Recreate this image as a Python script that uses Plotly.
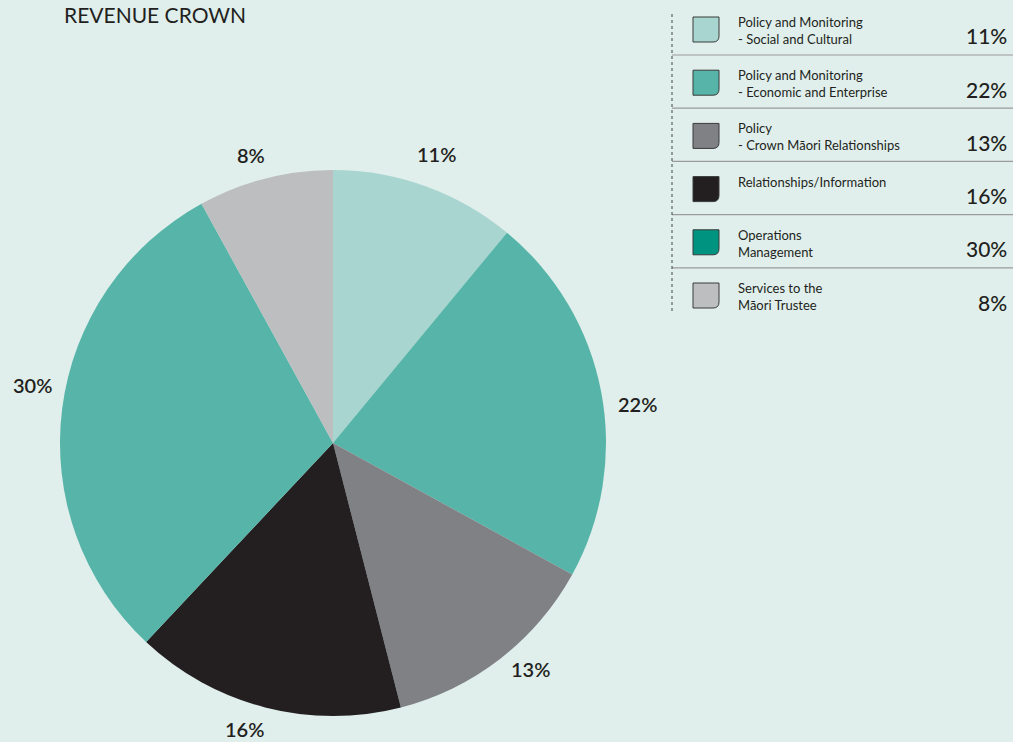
import math
import plotly.graph_objects as go

W, H = 1013, 742

categories = [
    "Policy and Monitoring<br>- Social and Cultural",
    "Policy and Monitoring<br>- Economic and Enterprise",
    "Policy<br>- Crown Māori Relationships",
    "Relationships/Information",
    "Operations<br>Management",
    "Services to the<br>Māori Trustee",
]
values = [11, 22, 13, 16, 30, 8]
pie_colors = ["#a8d5cf", "#56b4a8", "#808184", "#231f20", "#56b4a8", "#bcbec0"]
legend_colors = ["#a8d5cf", "#56b4a8", "#808184", "#231f20", "#009480", "#bcbec0"]
title_text = "REVENUE CROWN"

# small label nudges (px) relative to the radial position
label_nudge = [(0, -2), (5, 18), (11, -15), (-13, -9), (2, -20), (-6, 7)]

BG = "#e0efec"
TXT = "#231f20"
FONT = "Lato"

def px(x):
    return x / W

def py(y):
    return 1 - y / H

cx, cy, r = 333, 443, 273

fig = go.Figure()
fig.add_trace(go.Pie(
    labels=[c.replace("<br>", " ") for c in categories],
    values=values,
    marker=dict(colors=pie_colors, line=dict(width=0)),
    sort=False,
    direction="clockwise",
    rotation=0,
    textinfo="none",
    hoverinfo="label+percent",
    showlegend=False,
    domain=dict(x=[px(cx - r), px(cx + r)], y=[py(cy + r), py(cy - r)]),
))

annotations = []
shapes = []

# pie labels
total = sum(values)
cum = 0
lr = 305
for v, (dx, dy) in zip(values, label_nudge):
    mid = (cum + v / 2) / total * 2 * math.pi
    cum += v
    lx = cx + lr * math.sin(mid) + dx
    ly = cy - lr * math.cos(mid) + dy
    annotations.append(dict(
        x=px(lx), y=py(ly), xref="paper", yref="paper",
        text=f"{v}%", showarrow=False,
        font=dict(family=FONT, size=20, color=TXT, weight=600),
        xanchor="center", yanchor="middle",
    ))

# title
annotations.append(dict(
    x=px(62), y=py(15), xref="paper", yref="paper",
    text=title_text,
    showarrow=False, font=dict(family=FONT, size=21, color=TXT),
    xanchor="left", yanchor="middle",
))

# legend table
row_h = 53.2
lx0 = 672
for i, (cat, v, col) in enumerate(zip(categories, values, legend_colors)):
    top = 17 + row_h * i
    x0, x1 = 693, 719
    y0, y1 = top, top + 25
    rr = 6
    path = (f"M {px(x0)},{py(y0)} L {px(x1)},{py(y0)} L {px(x1)},{py(y1 - rr)} "
            f"Q {px(x1)},{py(y1)} {px(x1 - rr)},{py(y1)} L {px(x0)},{py(y1)} Z")
    shapes.append(dict(type="path", path=path, xref="paper", yref="paper",
                       fillcolor=col, line=dict(color="#3a3a3a", width=1)))
    annotations.append(dict(
        x=px(736), y=py(12 + row_h * i), xref="paper", yref="paper",
        text=cat, showarrow=False, align="left",
        font=dict(family=FONT, size=13, color=TXT),
        xanchor="left", yanchor="top",
    ))
    annotations.append(dict(
        x=px(1009), y=py(36 + row_h * i), xref="paper", yref="paper",
        text=f"{v}%", showarrow=False,
        font=dict(family=FONT, size=21, color=TXT, weight=500),
        xanchor="right", yanchor="middle",
    ))
    if i < len(values) - 1:
        ly = 55 + row_h * i
        shapes.append(dict(type="line", xref="paper", yref="paper",
                           x0=px(lx0), x1=px(W), y0=py(ly), y1=py(ly),
                           line=dict(color="#9a9a9a", width=1.2)))

shapes.append(dict(type="line", xref="paper", yref="paper",
                   x0=px(lx0), x1=px(lx0), y0=py(14), y1=py(312),
                   line=dict(color="#444444", width=1, dash="dot")))

fig.update_layout(
    width=W, height=H,
    margin=dict(l=0, r=0, t=0, b=0),
    paper_bgcolor=BG, plot_bgcolor=BG,
    annotations=annotations, shapes=shapes,
    showlegend=False,
)

fig.write_html("out.html")
